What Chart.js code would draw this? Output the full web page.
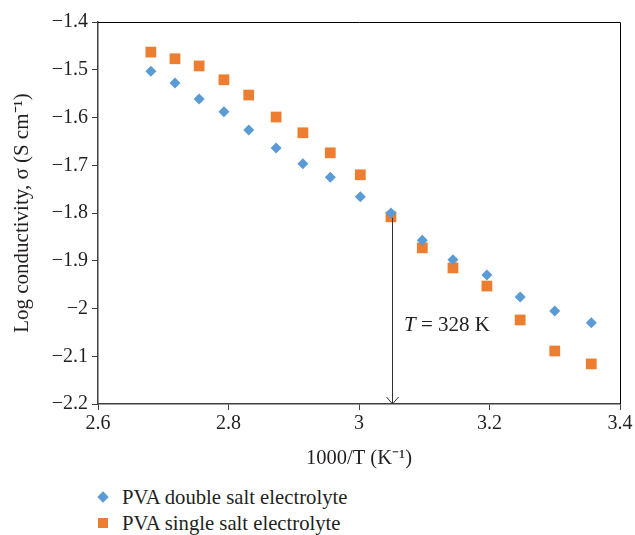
<!DOCTYPE html>
<html>
<head>
<meta charset="utf-8">
<script src="https://cdn.jsdelivr.net/npm/chart.js@4/dist/chart.umd.min.js"></script>
<style>
  body { margin: 0; background: #fff; }
  #wrap { position: relative; width: 635px; height: 535px; }
  #chart { position: absolute; left: 0; top: 0; }
  #legend { position: absolute; left: 96px; top: 484px; font-family: "Liberation Serif", serif; font-size: 20.7px; color: #231f20; }
  .item { height: 26px; line-height: 26px; display: flex; align-items: center; }
  .mark { width: 14px; height: 14px; margin-right: 12px; position: relative; }
  .diamond { position: absolute; left: 3px; top: 3px; width: 8px; height: 8px; transform: rotate(45deg); }
  .square { position: absolute; left: 2px; top: 2px; width: 10px; height: 10px; }
</style>
</head>
<body>
<div id="wrap">
  <canvas id="chart" width="635" height="480"></canvas>
  <div id="legend"></div>
</div>
<script>
// inverse temperature, 1000/T (K^-1)
const invT = [2.681, 2.718, 2.755, 2.793, 2.831, 2.873, 2.914, 2.956, 3.002, 3.049, 3.097, 3.144, 3.196, 3.247, 3.300, 3.356];
// log conductivity
const doubleSalt = [-1.503, -1.528, -1.561, -1.588, -1.626, -1.664, -1.697, -1.725, -1.766, -1.800, -1.857, -1.898, -1.930, -1.976, -2.005, -2.030];
const singleSalt = [-1.463, -1.477, -1.492, -1.521, -1.553, -1.599, -1.632, -1.674, -1.720, -1.808, -1.873, -1.915, -1.953, -2.024, -2.089, -2.116];
const seriesNames = ['PVA double salt electrolyte', 'PVA single salt electrolyte'];

// T = 328 K marker
const markX = 3.05;
const markTop = -1.81;
const markVar = 'T';
const markRest = ' = 328 K';
const markLabelX = 3.069;
const markLabelY = -2.035;

const blue = '#5b9bd5';
const orange = '#ed7d31';
const axisColor = '#404040';
const textColor = '#231f20';
const font = 'Liberation Serif';

function fmt(v) {
    return String(Number(v.toFixed(1))).replace('-', '\u2212');
}

const boxPlugin = {
    id: 'box',
    afterDraw(chart) {
        const ctx = chart.ctx;
        const a = chart.chartArea;
        const xs = chart.scales.x, ys = chart.scales.y;
        ctx.save();
        // top and right frame
        ctx.strokeStyle = '#000';
        ctx.lineWidth = 1;
        ctx.beginPath();
        ctx.moveTo(a.left, a.top + 0.5);
        ctx.lineTo(a.right + 0.5, a.top + 0.5);
        ctx.lineTo(a.right + 0.5, a.bottom);
        ctx.stroke();

        // arrow down to the x axis
        const px = Math.round(xs.getPixelForValue(markX)) + 0.5;
        const y0 = ys.getPixelForValue(markTop);
        const y1 = a.bottom;
        ctx.strokeStyle = '#333';
        ctx.beginPath();
        ctx.moveTo(px, y0);
        ctx.lineTo(px, y1);
        ctx.moveTo(px - 6, y1 - 7);
        ctx.lineTo(px, y1);
        ctx.lineTo(px + 6, y1 - 7);
        ctx.stroke();

        // label, italic T
        const lx = xs.getPixelForValue(markLabelX);
        const ly = ys.getPixelForValue(markLabelY);
        ctx.fillStyle = textColor;
        ctx.textBaseline = 'middle';
        ctx.textAlign = 'left';
        ctx.font = 'italic 21px "' + font + '"';
        ctx.fillText(markVar, lx, ly);
        const w = ctx.measureText(markVar).width;
        ctx.font = '21px "' + font + '"';
        ctx.fillText(markRest, lx + w, ly);
        ctx.restore();
    }
};

const ctx = document.getElementById('chart').getContext('2d');
new Chart(ctx, {
    type: 'scatter',
    data: {
        datasets: [
            {
                label: seriesNames[0],
                data: invT.map((x, i) => ({ x: x, y: doubleSalt[i] })),
                pointStyle: 'rectRot',
                pointRadius: 5.5,
                backgroundColor: blue,
                borderColor: blue,
                borderWidth: 0
            },
            {
                label: seriesNames[1],
                data: invT.map((x, i) => ({ x: x, y: singleSalt[i] })),
                pointStyle: 'rect',
                pointRadius: 7.6,
                backgroundColor: orange,
                borderColor: orange,
                borderWidth: 0
            }
        ]
    },
    options: {
        responsive: false,
        animation: false,
        layout: { padding: { top: 22, right: 15, left: 0, bottom: 0 } },
        plugins: {
            legend: { display: false },
            tooltip: { enabled: false }
        },
        scales: {
            x: {
                type: 'linear',
                min: 2.6,
                max: 3.4,
                afterFit: s => { s.height = 76; },
                afterBuildTicks: s => { s.ticks = [2.6, 2.8, 3.0, 3.2, 3.4].map(v => ({ value: v })); },
                ticks: {
                    callback: v => fmt(v),
                    color: textColor,
                    font: { family: font, size: 20 },
                    padding: 2,
                    maxRotation: 0
                },
                grid: { display: true, drawOnChartArea: false, drawTicks: true, tickLength: 6, color: axisColor },
                border: { display: true, color: axisColor, width: 1.5 },
                title: {
                    display: true,
                    text: '1000/T (K\u207b\u00b9)',
                    color: textColor,
                    font: { family: font, size: 20.5 },
                    padding: { top: 0, bottom: 9 }
                }
            },
            y: {
                min: -2.2,
                max: -1.4,
                afterFit: s => { s.width = 98; },
                ticks: {
                    stepSize: 0.1,
                    callback: v => fmt(v),
                    color: textColor,
                    font: { family: font, size: 20 },
                    padding: 4
                },
                grid: { display: true, drawOnChartArea: false, drawTicks: true, tickLength: 6, color: axisColor },
                border: { display: true, color: axisColor, width: 1.5 },
                title: {
                    display: true,
                    text: 'Log conductivity, \u03c3 (S cm\u207b\u00b9)',
                    color: textColor,
                    font: { family: font, size: 21 },
                    padding: { top: 10, bottom: 0 }
                }
            }
        }
    },
    plugins: [boxPlugin]
});

// legend below the chart
const legend = document.getElementById('legend');
[['diamond', blue], ['square', orange]].forEach((m, i) => {
    const row = document.createElement('div');
    row.className = 'item';
    row.innerHTML = '<span class="mark"><span class="' + m[0] + '" style="background:' + m[1] + '"></span></span>';
    const label = document.createElement('span');
    label.textContent = seriesNames[i];
    row.appendChild(label);
    legend.appendChild(row);
});
</script>
</body>
</html>
